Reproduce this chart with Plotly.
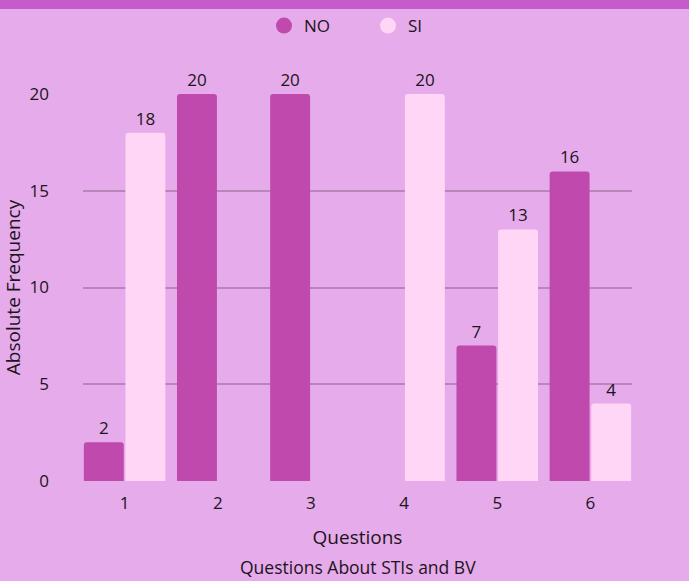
import plotly.graph_objects as go

questions = ["1", "2", "3", "4", "5", "6"]
no_values = [2, 20, 20, 0, 7, 16]
si_values = [18, 0, 0, 20, 13, 4]
y_ticks = [0, 5, 10, 15, 20]

NO_COLOR = "#C049AE"
SI_COLOR = "#FFD6F5"
BG = "#E6ABEA"
FONT = "Open Sans"
TXT = "#1c1420"

W, H = 689, 581
L, R, T, B = 83, 57, 94, 100
pw, ph = W - L - R, H - T - B
GAP = 0.107

def lbl(vals):
    return [str(v) if v else "" for v in vals]

def bars(vals):
    return [v if v else None for v in vals]

fig = go.Figure()
fig.add_trace(go.Bar(x=questions, y=bars(no_values), name="NO",
                     marker=dict(color=NO_COLOR, line=dict(width=0)),
                     text=lbl(no_values), textposition="outside", cliponaxis=False,
                     textfont=dict(size=17, color=TXT, family=FONT), showlegend=False))
fig.add_trace(go.Bar(x=questions, y=bars(si_values), name="SI",
                     marker=dict(color=SI_COLOR, line=dict(width=0)),
                     text=lbl(si_values), textposition="outside", cliponaxis=False,
                     textfont=dict(size=17, color=TXT, family=FONT), showlegend=False))
# legend entries with circle markers
fig.add_trace(go.Scatter(x=[None], y=[None], mode="markers", name="NO",
                         marker=dict(symbol="circle", size=17, color=NO_COLOR)))
fig.add_trace(go.Scatter(x=[None], y=[None], mode="markers", name="SI",
                         marker=dict(symbol="circle", size=17, color=SI_COLOR)))

fig.update_layout(
    width=W, height=H,
    margin=dict(l=L, r=R, t=T, b=B, autoexpand=False),
    paper_bgcolor=BG, plot_bgcolor=BG,
    font=dict(family=FONT, size=17, color=TXT),
    barmode="group", bargap=GAP, bargroupgap=0.04,
    barcornerradius=3,
    legend=dict(orientation="h", x=(264 - L) / pw, xanchor="left",
                y=1 + (T - 26) / ph, yanchor="middle",
                font=dict(size=17, family=FONT, color=TXT),
                itemsizing="trace", bgcolor="rgba(0,0,0,0)",
                entrywidthmode="pixels", entrywidth=59),
    xaxis=dict(type="category", showgrid=False, zeroline=False, showline=False,
               range=[-0.5 + GAP / 2, 5.5 - GAP / 2],
               ticks="", ticklabelstandoff=10, tickfont=dict(size=17),
               title=dict(text="Questions", font=dict(size=19), standoff=17)),
    yaxis=dict(range=[0, 20], tickvals=y_ticks, showgrid=True,
               gridcolor="#B887B9", gridwidth=2, zeroline=False, showline=False,
               ticks="", ticklabelstandoff=33, tickfont=dict(size=17),
               title=dict(text="Absolute Frequency", font=dict(size=19), standoff=12)),
    shapes=[dict(type="rect", xref="paper", yref="paper",
                 x0=-L / pw, x1=1 + R / pw,
                 y0=1 + (T - 9) / ph, y1=1 + T / ph + 0.01,
                 fillcolor="#C65CCB", line=dict(width=0), layer="below")],
    annotations=[dict(text="Questions About STIs and BV", xref="paper", yref="paper",
                      x=(358 - L) / pw, y=-(567 - 481) / ph, xanchor="center", yanchor="middle",
                      showarrow=False, font=dict(size=17.5, family=FONT, color=TXT))],
)

fig.write_html("out.html")
